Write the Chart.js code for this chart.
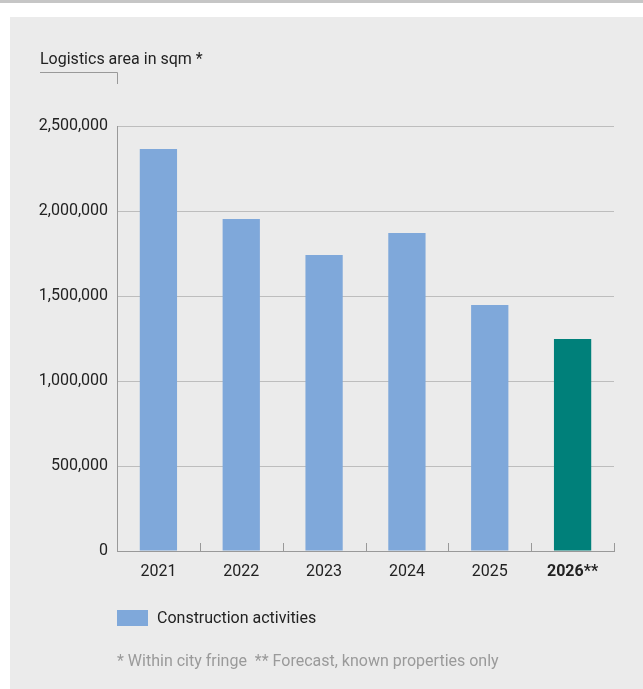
<!DOCTYPE html>
<html>
<head>
<meta charset="utf-8">
<script src="https://cdn.jsdelivr.net/npm/chart.js@4/dist/chart.umd.min.js"></script>
<style>
    html, body { margin: 0; padding: 0; background: #fff; font-family: Roboto, sans-serif; }
    #page { position: relative; width: 643px; height: 689px; overflow: hidden; }
    #topline { position: absolute; left: 0; top: 0; width: 643px; height: 3px; background: #c6c6c6; }
    #panel { position: absolute; left: 10px; top: 17px; width: 633px; height: 672px; background: #ebebeb; }
    #chart { position: absolute; left: 0; top: 0; }
    .txt { position: absolute; font-size: 16px; color: #222; white-space: nowrap; }
    #title { left: 40px; top: 49px; }
    #legend { left: 117px; top: 608px; display: flex; align-items: center; }
    #legend span.box { display: inline-block; width: 31px; height: 16px; margin-right: 9px; }
    #note { left: 117px; top: 651px; color: #9a9a9a; }
</style>
</head>
<body>
<div id="page">
    <div id="topline"></div>
    <div id="panel"></div>
    <canvas id="chart" width="643" height="689"></canvas>
    <div class="txt" id="title">Logistics area in sqm *</div>
    <div class="txt" id="legend"><span class="box"></span><span id="legendLabel"></span></div>
    <div class="txt" id="note">* Within city fringe&nbsp; ** Forecast, known properties only</div>
</div>
<script>
// Données
const years = ['2021', '2022', '2023', '2024', '2025', '2026**'];
const area = [2365000, 1953000, 1741000, 1871000, 1447000, 1247000];
const seriesLabel = 'Construction activities';
const yTicks = [0, 500000, 1000000, 1500000, 2000000, 2500000];

const blue = '#7fa8da';
const teal = '#00807a';

document.querySelector('#legend .box').style.background = blue;
document.getElementById('legendLabel').textContent = seriesLabel;

// petits traits verticaux sur l'axe x + crochet sous le titre
const decorPlugin = {
    id: 'decor',
    afterDraw(chart) {
        const ctx = chart.ctx;
        const x = chart.scales.x;
        const a = chart.chartArea;
        ctx.save();
        ctx.strokeStyle = '#999';
        ctx.lineWidth = 1;
        const step = (x.right - x.left) / years.length;
        for (let i = 1; i <= years.length; i++) {
            const px = Math.round(x.left + i * step) + 0.5;
            ctx.beginPath();
            ctx.moveTo(px, a.bottom);
            ctx.lineTo(px, a.bottom - 8);
            ctx.stroke();
        }
        ctx.beginPath();
        ctx.moveTo(40, 72.5);
        ctx.lineTo(a.left + 0.5, 72.5);
        ctx.lineTo(a.left + 0.5, 84);
        ctx.stroke();
        ctx.restore();
    }
};

new Chart(document.getElementById('chart'), {
    type: 'bar',
    data: {
        labels: years,
        datasets: [{
            label: seriesLabel,
            data: area,
            backgroundColor: area.map((v, i) => i === area.length - 1 ? teal : blue),
            borderWidth: 0,
            barPercentage: 0.45,
            categoryPercentage: 1
        }]
    },
    options: {
        responsive: false,
        animation: false,
        layout: {
            padding: { left: 0, top: 126, right: 29, bottom: 98 }
        },
        plugins: {
            legend: { display: false },
            tooltip: { enabled: false }
        },
        scales: {
            x: {
                grid: { display: false },
                border: { color: '#999', width: 1 },
                ticks: {
                    padding: 3,
                    color: '#222',
                    font: ctx => ({ family: 'Roboto', size: 16, weight: ctx.index === years.length - 1 ? 'bold' : 'normal' })
                },
                afterFit: s => { s.height = 40; }
            },
            y: {
                min: 0,
                max: 2500000,
                afterBuildTicks: s => { s.ticks = yTicks.map(v => ({ value: v })); },
                grid: { color: '#bdbdbd', drawTicks: false, lineWidth: 1 },
                border: { color: '#999', width: 1 },
                ticks: {
                    padding: 9,
                    color: '#222',
                    font: { family: 'Roboto', size: 16 },
                    callback: v => v.toLocaleString('en-US')
                },
                afterFit: s => { s.width = 117; }
            }
        }
    },
    plugins: [decorPlugin]
});
</script>
</body>
</html>
